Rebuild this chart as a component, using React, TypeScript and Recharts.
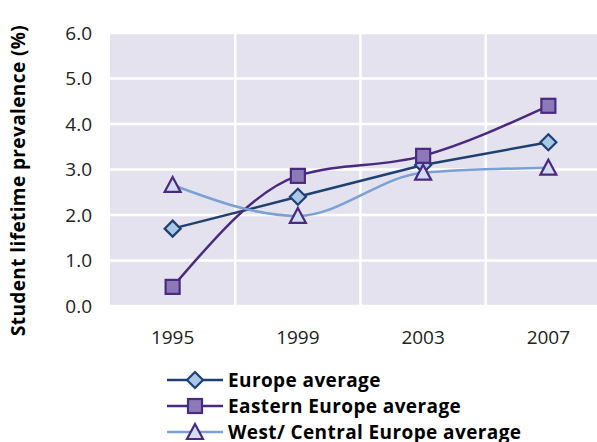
import {
    CartesianGrid,
    Legend,
    Line,
    LineChart,
    XAxis,
    YAxis,
} from "recharts";

const years = ["1995", "1999", "2003", "2007"];
const europeAvg = [1.7, 2.4, 3.1, 3.6];
const easternAvg = [0.42, 2.86, 3.3, 4.4];
const westCentralAvg = [2.66, 1.98, 2.93, 3.04];
const yTicks = [0, 1, 2, 3, 4, 5, 6];

const data = years.map((year, i) => ({
    year,
    europe: europeAvg[i],
    eastern: easternAvg[i],
    west: westCentralAvg[i],
}));

const NAVY = "#1f4070";
const PURPLE = "#4a2a80";
const LIGHT = "#7ba0d4";
const FONT = "'Open Sans', 'Noto Sans', sans-serif";

function Diamond(props: any) {
    const { cx, cy } = props;
    const r = 8;
    return (
        <polygon
            points={`${cx},${cy - r} ${cx + r},${cy} ${cx},${cy + r} ${cx - r},${cy}`}
            fill="#a8c8ea"
            stroke={NAVY}
            strokeWidth={2.2}
        />
    );
}

function Square(props: any) {
    const { cx, cy } = props;
    const s = 7;
    return (
        <rect x={cx - s} y={cy - s} width={s * 2} height={s * 2} fill="#8c7ab8" stroke={PURPLE} strokeWidth={2.2} />
    );
}

function Triangle(props: any) {
    const { cx, cy } = props;
    return (
        <polygon
            points={`${cx},${cy - 8} ${cx + 8},${cy + 7} ${cx - 8},${cy + 7}`}
            fill="#d3dcf2"
            stroke={PURPLE}
            strokeWidth={2.2}
        />
    );
}

const legendItems = [
    { label: "Europe average", color: NAVY, Marker: Diamond },
    { label: "Eastern Europe average", color: PURPLE, Marker: Square },
    { label: "West/ Central Europe average", color: LIGHT, Marker: Triangle },
];

function LegendBox() {
    return (
        <div style={{ fontFamily: FONT }}>
            {legendItems.map(({ label, color, Marker }) => (
                <div key={label} style={{ display: "flex", alignItems: "center", height: 26 }}>
                    <svg width={60} height={20}>
                        <line x1={0} y1={10} x2={56} y2={10} stroke={color} strokeWidth={2.5} />
                        <Marker cx={28} cy={10} />
                    </svg>
                    <span style={{ fontWeight: 700, fontSize: 19, letterSpacing: 0.4, color: "#000", marginLeft: 1, whiteSpace: "nowrap" }}>
                        {label}
                    </span>
                </div>
            ))}
        </div>
    );
}

function YLabel(props: any) {
    const { viewBox } = props;
    const x = 18;
    const y = viewBox.y + viewBox.height / 2 + 11;
    return (
        <text
            x={x}
            y={y}
            transform={`rotate(-90, ${x}, ${y})`}
            textAnchor="middle"
            dominantBaseline="central"
            fontFamily={FONT}
            fontWeight={700}
            fontSize={19}
            letterSpacing={0.4}
            fill="#000"
        >
            Student lifetime prevalence (%)
        </text>
    );
}

export default function App() {
    return (
        <div style={{ position: "absolute", left: 0, top: 0, width: 597, height: 442, overflow: "hidden", background: "#fff" }}>
            <LineChart width={620} height={442} data={data} margin={{ top: 33, right: 9, bottom: 96, left: 0 }}>
                <CartesianGrid
                    fill="#e4e2ee"
                    stroke="#ffffff"
                    strokeWidth={2.5}
                    verticalCoordinatesGenerator={({ offset }: any) =>
                        [1, 2, 3].map((k) => offset.left + (offset.width * k) / 4)
                    }
                />
                <XAxis
                    dataKey="year"
                    scale="band"
                    axisLine={false}
                    tickLine={false}
                    height={40}
                    tickMargin={19}
                    tick={{ fontFamily: FONT, fontSize: 19, fill: "#222" }}
                />
                <YAxis
                    domain={[0, 6]}
                    ticks={yTicks}
                    tickFormatter={(v: number) => v.toFixed(1)}
                    axisLine={false}
                    tickLine={false}
                    width={110}
                    tickMargin={12}
                    tick={{ fontFamily: FONT, fontSize: 19, fill: "#222" }}
                    label={<YLabel />}
                />
                <Line
                    type="linear"
                    dataKey="europe"
                    stroke={NAVY}
                    strokeWidth={2.5}
                    dot={<Diamond />}
                    isAnimationActive={false}
                />
                <Line
                    type="monotone"
                    dataKey="eastern"
                    stroke={PURPLE}
                    strokeWidth={2.5}
                    dot={<Square />}
                    isAnimationActive={false}
                />
                <Line
                    type="monotone"
                    dataKey="west"
                    stroke={LIGHT}
                    strokeWidth={2.5}
                    dot={<Triangle />}
                    isAnimationActive={false}
                />
                <Legend
                    layout="vertical"
                    align="center"
                    verticalAlign="middle"
                    content={<LegendBox />}
                    wrapperStyle={{ left: 167, top: 367, width: 430, height: 80 }}
                />
            </LineChart>
        </div>
    );
}
